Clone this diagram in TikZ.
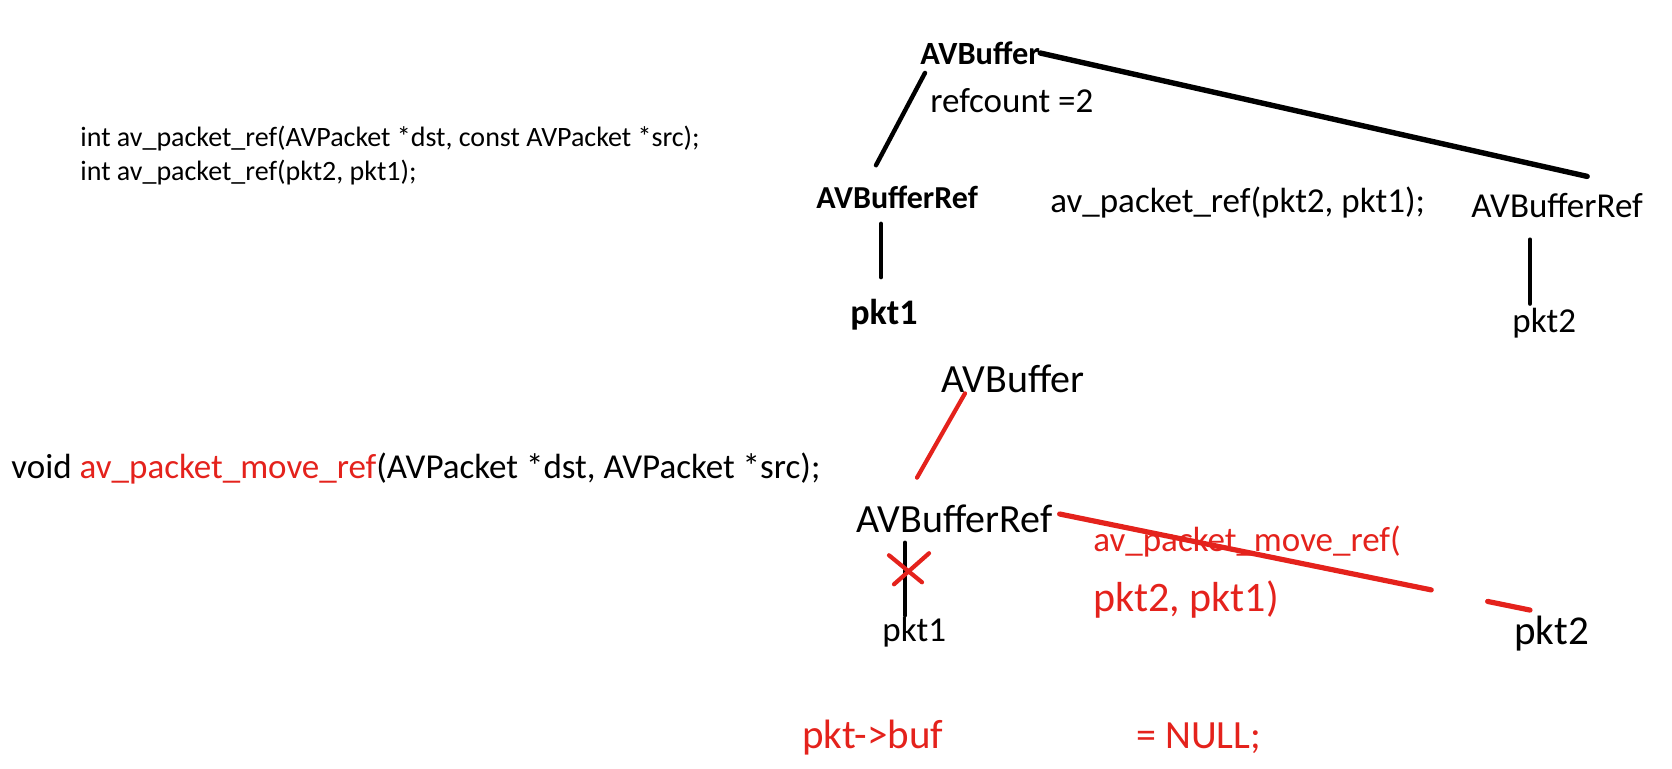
\documentclass[tikz,border=0pt]{standalone}
\usepackage{fontspec}
\setmainfont{Carlito}
\usetikzlibrary{calc}
\definecolor{penred}{RGB}{228,34,28}
\newcommand{\fsz}[1]{\fontsize{#1}{#1}\selectfont}

\begin{document}
\begin{tikzpicture}[x=0.5pt,y=-0.5pt]

\tikzset{txt/.style={inner sep=0pt,anchor=west},
  blk/.style={line width=2.2pt,black,line cap=round},
  redpen/.style={line width=2.1pt,penred,line cap=round}}
  \useasboundingbox (0,0) rectangle (1672,768);

  \node[txt,font=\fsz{14pt}] (sig1) at (80,139) {int av\_packet\_ref(AVPacket *dst, const AVPacket *src);};
  \node[txt,font=\fsz{14pt}] (sig2) at (80,173) {int av\_packet\_ref(pkt2, pkt1);};

  % av_packet_ref
  \node[txt,font=\bfseries\fsz{16.2pt}] (buf1) at (920,53) {AVBuffer};
  \node[txt,font=\fsz{17.5pt}] (cnt) at (930,101) {refcount =2};
  \node[txt,font=\bfseries\fsz{16pt}] (ref1) at (816,197) {AVBufferRef};
  \node[txt,font=\fsz{17.5pt}] (call1) at (1050,203) {av\_packet\_ref(pkt2, pkt1);};
  \node[txt,font=\fsz{17.5pt}] (ref2) at (1471,206) {AVBufferRef};
  \node[txt,font=\bfseries\fsz{18pt}] (pkt1a) at (850,315) {pkt1};
  \node[txt,font=\fsz{17.5pt}] (pkt2a) at (1512,323) {pkt2};

  \draw[blk] ($(buf1.south west)+(5,8)$) -- ($(ref1.north west)+(60,-20)$);
  \draw[blk,line width=2.7pt] (buf1.east) -- ($(ref2.north east)+(-56,-17)$);
  \draw[blk] ($(ref1.south west)+(65,15)$) -- ($(pkt1a.north west)+(31,-22)$);
  \draw[blk] ($(ref2.south west)+(59,21)$) -- ($(pkt2a.north west)+(18,-4)$);

  % av_packet_move_ref
  \node[txt,font=\fsz{17.5pt}] (sig3) at (11,469) {void \textcolor{penred}{av\_packet\_move\_ref}(AVPacket *dst, AVPacket *src);};
  \node[txt,font=\fsz{20pt}] (buf2) at (941,379) {AVBuffer};
  \node[txt,font=\fsz{20pt}] (ref3) at (856,519) {AVBufferRef};
  \node[txt,font=\fsz{17.5pt},text=penred] (call2) at (1093,542) {av\_packet\_move\_ref(};
  \node[txt,font=\fsz{21pt},text=penred] (args) at (1093,600) {pkt2, pkt1)};
  \node[txt,font=\fsz{17.5pt}] (pkt1b) at (882,632) {pkt1};
  \node[txt,font=\fsz{20.5pt}] (pkt2b) at (1514,634) {pkt2};
  \node[txt,font=\fsz{20.5pt},text=penred] (bufnull) at (802,738) {pkt->buf};
  \node[txt,font=\fsz{20pt},text=penred] (null) at (1136,738) {= NULL;};

  \draw[redpen] ($(buf2.south west)+(24,0)$) -- ($(ref3.north west)+(61,-27)$);
  \coordinate (mv1) at ($(ref3.east)+(7,-5)$);
  \coordinate (mv2) at ($(pkt2b.north west)+(16,-6)$);
  \draw[redpen,line width=2.6pt] (mv1) -- ($(mv1)!0.79!(mv2)$);
  \draw[redpen,line width=2.6pt] ($(mv1)!0.91!(mv2)$) -- (mv2);
  \coordinate (cut1) at ($(ref3.south west)+(49,9)$);
  \coordinate (cut2) at ($(pkt1b.north west)+(23,-1)$);
  \draw[blk,line width=1.8pt] (cut1) -- (cut2);
  \coordinate (xmark) at ($(cut1)!0.34!(cut2)$);
  \draw[redpen] ($(xmark)+(-16,-12)$) -- ($(xmark)+(17,15)$);
  \draw[redpen] ($(xmark)+(24,-14)$) -- ($(xmark)+(-11,17)$);

\end{tikzpicture}
\end{document}
